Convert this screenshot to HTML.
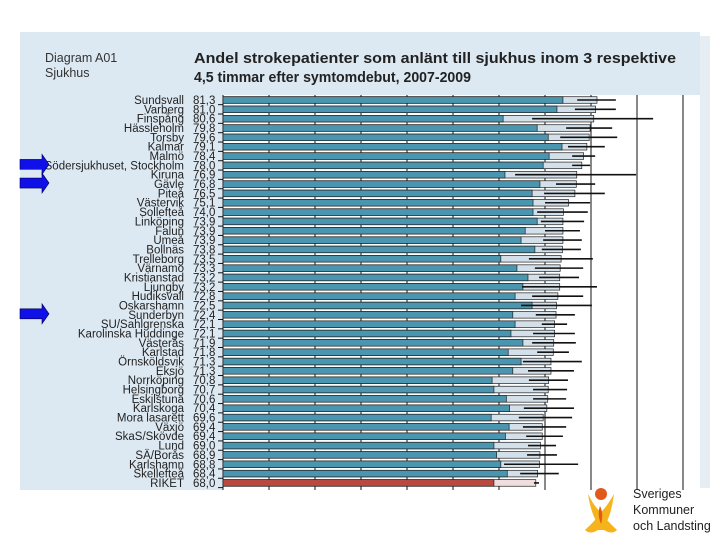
<!DOCTYPE html>
<html><head><meta charset="utf-8">
<style>
html,body{margin:0;padding:0;background:#fff;width:720px;height:540px;overflow:hidden}
svg{display:block;font-family:"Liberation Sans",sans-serif}
</style></head>
<body>
<svg id="chart" width="720" height="540" viewBox="0 0 720 540">
  <rect x="700" y="36" width="10" height="452" fill="#e6edf3"/>
  <rect x="20" y="32" width="680" height="458" fill="#dde9f2"/>
  <rect x="223" y="95" width="477" height="395" fill="#ffffff"/>
  <text x="45" y="62" font-size="12.5" fill="#333">Diagram A01</text>
  <text x="45" y="77" font-size="12.5" fill="#333">Sjukhus</text>
  <text x="194" y="63" font-size="14.5" font-weight="bold" fill="#222" textLength="482" lengthAdjust="spacingAndGlyphs">Andel strokepatienter som anlänt till sjukhus inom 3 respektive</text>
  <text x="194" y="82" font-size="14.5" font-weight="bold" fill="#222" textLength="277" lengthAdjust="spacingAndGlyphs">4,5 timmar efter symtomdebut, 2007-2009</text>
  <g id="grid"></g>
  <g id="rows"></g>
  <g id="arrows"></g>
  <g>
    <path d="M588 494 Q592 520 602 528 Q610 522 614 494 Q606 508 601 512 Q595 508 588 494Z" fill="#f5b31c"/>
    <path d="M598 530 Q590 535 585 530 Q596 520 601 512 Q606 520 617 530 Q612 535 604 530Z" fill="#f5b31c"/>
    <circle cx="601" cy="494" r="6" fill="#e05a1c"/>
    <path d="M600 506 Q604 514 601 524 Q597 514 600 506Z" fill="#e05a1c"/>
    <text x="633" y="498" font-size="12.5" fill="#222">Sveriges</text>
    <text x="633" y="514" font-size="12.5" fill="#222">Kommuner</text>
    <text x="633" y="530" font-size="12.5" fill="#222">och Landsting</text>
  </g>
</svg>
<script>
const names = ["Sundsvall","Varberg","Finspång","Hässleholm","Torsby","Kalmar","Malmö","Södersjukhuset, Stockholm","Kiruna","Gävle","Piteå","Västervik","Sollefteå","Linköping","Falun","Umeå","Bollnäs","Trelleborg","Värnamo","Kristianstad","Ljungby","Hudiksvall","Oskarshamn","Sunderbyn","SU/Sahlgrenska","Karolinska Huddinge","Västerås","Karlstad","Örnsköldsvik","Eksjö","Norrköping","Helsingborg","Eskilstuna","Karlskoga","Mora lasarett","Växjö","SkaS/Skövde","Lund","SÄ/Borås","Karlshamn","Skellefteå","RIKET"];
const within45 = [81.3,81.0,80.6,79.8,79.6,79.1,78.4,78.0,76.9,76.8,76.5,75.1,74.0,73.9,73.9,73.9,73.8,73.5,73.3,73.2,73.2,72.8,72.5,72.4,72.1,72.1,71.9,71.8,71.3,71.3,70.8,70.7,70.6,70.4,69.6,69.4,69.4,69.0,68.9,68.8,68.4,68.0];
const within3 = [73.9,72.6,60.9,68.3,70.7,73.7,70.9,69.6,61.3,68.9,67.2,67.4,67.4,68.3,65.7,64.8,67.8,60.4,63.9,66.3,65.2,63.5,67.2,63.0,63.5,62.6,65.2,62.0,64.8,63.0,58.5,58.9,61.6,62.3,58.3,62.2,61.4,58.9,59.5,60.4,61.8,58.9];
const ciLow = [77.0,76.5,67.2,74.6,73.3,75.0,75.9,75.9,63.5,72.4,69.8,70.0,68.3,69.1,70.0,69.6,69.3,66.5,67.8,68.7,65.0,67.2,64.8,68.0,69.3,67.4,67.2,68.3,65.2,66.3,66.5,67.4,67.4,65.4,64.3,65.2,65.9,66.3,66.1,61.1,64.6,67.6];
const ciHigh = [85.4,85.4,93.5,84.6,85.7,83.0,80.9,79.8,89.8,80.9,83.0,79.8,79.3,78.5,77.6,78.0,77.8,80.4,78.3,77.4,81.3,78.3,80.2,76.5,74.8,76.5,76.7,75.2,78.0,76.3,75.0,74.8,74.6,76.3,75.9,74.6,73.9,72.4,72.6,77.2,73.0,68.7];
const gridTicks = [0,10,20,30,40,50,60,70,80,90,100];
const arrowRows = [7,9,23];

const NS = "http://www.w3.org/2000/svg";
const x = v => 223 + v * 4.6;
const y0 = 100, step = 9.34;
const yc = i => y0 + i * step;
function mk(tag, attrs, parent){ const e=document.createElementNS(NS,tag); for(const k in attrs) e.setAttribute(k,attrs[k]); parent.appendChild(e); return e; }
const grid = document.getElementById('grid');
const rows = document.getElementById('rows');
const arrows = document.getElementById('arrows');

gridTicks.forEach(t => {
  const l = mk('line',{x1:x(t),x2:x(t),y1:95,y2:490,stroke:'#111','stroke-width':1},grid);
  
  
});

names.forEach((n,i) => {
  const cy = yc(i);
  const g = mk('g',{},rows);
  
  
  const isR = n === "RIKET";
  const lab = mk('text',{x:184,y:cy+4,'font-size':11.5,'text-anchor':'end',fill:'#222'},g);
  lab.textContent = n;
  
  
  const val = mk('text',{x:193,y:cy+4,'font-size':11.5,fill:'#222'},g);
  val.textContent = within45[i].toFixed(1).replace('.',',');
  
  
  const tk = mk('line',{x1:218,x2:223,y1:cy+4.67,y2:cy+4.67,stroke:'#111','stroke-width':1},g);
  
  
  const lb = mk('rect',{x:x(0),y:cy-3.3,width:x(within45[i])-x(0),height:6.6,fill:isR?'#f0dede':'#d3e0ea',stroke:'#222','stroke-width':0.7},g);
  
  
  const db = mk('rect',{x:x(0),y:cy-3.3,width:x(within3[i])-x(0),height:6.6,fill:isR?'#b84a40':'#4a96b0',stroke:'#222','stroke-width':0.7},g);
  
  
  const eb = mk('line',{x1:x(ciLow[i]),x2:x(ciHigh[i]),y1:cy,y2:cy,stroke:'#111','stroke-width':1.6},g);
  
  
});

arrowRows.forEach(r => {
  const cy = yc(r) - 1;
  const a = mk('path',{d:`M20 ${cy-5} L42 ${cy-5} L42 ${cy-10} L49 ${cy} L42 ${cy+10} L42 ${cy+5} L20 ${cy+5}Z`,fill:'#1010e8',stroke:'#000050','stroke-width':0.6},arrows);
  
  
});
</script>
</body></html>
